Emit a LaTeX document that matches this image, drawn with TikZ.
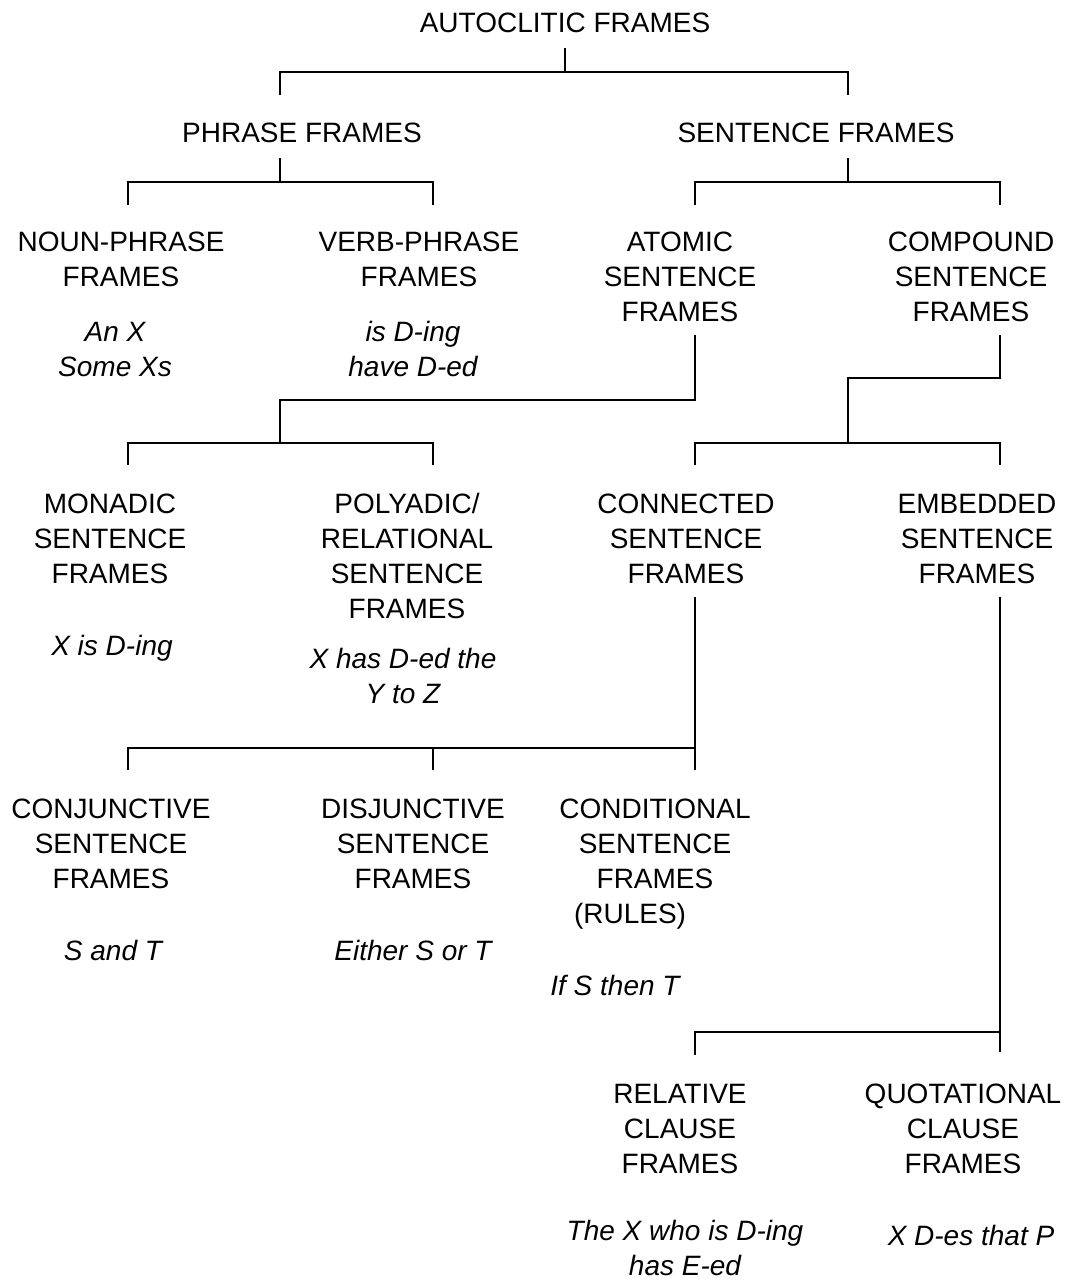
\documentclass[tikz,border=0pt]{standalone}
\usepackage{fontspec}
\setmainfont{Liberation Sans}
\usetikzlibrary{calc}

\tikzset{
  lbl/.style={align=center,anchor=base,inner sep=0pt,font=\fontsize{28}{35}\selectfont},
  ex/.style={lbl,font=\fontsize{28}{35}\selectfont\itshape},
  branch/.style={line width=1.5pt}
}

\begin{document}
\begin{tikzpicture}[x=1pt,y=-1pt]
  \useasboundingbox (0,0) rectangle (1071,1282);

  % labels (base = baseline of the last line)
  \node[lbl] (auto) at (565,32) {AUTOCLITIC FRAMES};
  \node[lbl] (phrase) at (302,142) {PHRASE FRAMES};
  \node[lbl] (sent) at (816,142) {SENTENCE FRAMES};
  \node[lbl] (noun) at (121,286) {NOUN-PHRASE\\FRAMES};
  \node[lbl] (verb) at (419,286) {VERB-PHRASE\\FRAMES};
  \node[lbl] (atomic) at (680,321) {ATOMIC\\SENTENCE\\FRAMES};
  \node[lbl] (comp) at (971,321) {COMPOUND\\SENTENCE\\FRAMES};
  \node[ex] (nounex) at (115,376) {An X\\Some Xs};
  \node[ex] (verbex) at (413,376) {is D-ing\\have D-ed};
  \node[lbl] (mono) at (110,583) {MONADIC\\SENTENCE\\FRAMES};
  \node[lbl] (poly) at (407,618) {POLYADIC/\\RELATIONAL\\SENTENCE\\FRAMES};
  \node[lbl] (conn) at (686,583) {CONNECTED\\SENTENCE\\FRAMES};
  \node[lbl] (emb) at (977,583) {EMBEDDED\\SENTENCE\\FRAMES};
  \node[ex] (monoex) at (112,655) {X is D-ing};
  \node[ex] (polyex) at (403,703) {X has D-ed the\\Y to Z};
  \node[lbl] (conj) at (111,888) {CONJUNCTIVE\\SENTENCE\\FRAMES};
  \node[lbl] (disj) at (413,888) {DISJUNCTIVE\\SENTENCE\\FRAMES};
  \node[lbl] (cond) at (655,923) {CONDITIONAL\\SENTENCE\\FRAMES\\(RULES)\hspace*{50pt}};
  \node[ex] (conjex) at (113,960) {S and T};
  \node[ex] (disjex) at (413,960) {Either S or T};
  \node[ex] (condex) at (615,995) {If S then T};
  \node[lbl] (rel) at (680,1173) {RELATIVE\\CLAUSE\\FRAMES};
  \node[lbl] (quot) at (963,1173) {QUOTATIONAL\\CLAUSE\\FRAMES};
  \node[ex] (relex) at (685,1275) {The X who is D-ing\\has E-ed};
  \node[ex] (quotex) at (971,1245) {X D-es that P};

  % stems and drops
  \coordinate (auto-out) at (565,48);
  \coordinate (phrase-in) at (280,95);
  \coordinate (sent-in) at (848,95);
  \coordinate (phrase-out) at (280,158);
  \coordinate (sent-out) at (848,158);
  \coordinate (noun-in) at (128,205);
  \coordinate (verb-in) at (433,205);
  \coordinate (atomic-in) at (695,205);
  \coordinate (comp-in) at (1000,205);
  \coordinate (atomic-out) at (695,335);
  \coordinate (comp-out) at (1000,335);
  \coordinate (mono-in) at (128,465);
  \coordinate (poly-in) at (433,465);
  \coordinate (conn-in) at (695,465);
  \coordinate (emb-in) at (1000,465);
  \coordinate (conn-out) at (695,597);
  \coordinate (emb-out) at (1000,597);
  \coordinate (conj-in) at (128,770);
  \coordinate (disj-in) at (433,770);
  \coordinate (cond-in) at (695,770);
  \coordinate (rel-in) at (695,1055);
  \coordinate (quot-in) at (1000,1052);

  % connectors
  \draw[branch] (auto-out) -- ++(0,24) coordinate (j1);
  \draw[branch] (phrase-in) |- (j1) -| (sent-in);
  \draw[branch] (phrase-out) -- ++(0,24) coordinate (j2);
  \draw[branch] (noun-in) |- (j2) -| (verb-in);
  \draw[branch] (sent-out) -- ++(0,24) coordinate (j3);
  \draw[branch] (atomic-in) |- (j3) -| (comp-in);
  \draw[branch] (atomic-out) -- ++(0,65) -| (280,443) coordinate (j4);
  \draw[branch] (mono-in) |- (j4) -| (poly-in);
  \draw[branch] (comp-out) -- ++(0,43) -| (848,443) coordinate (j5);
  \draw[branch] (conn-in) |- (j5) -| (emb-in);
  \draw[branch] (conn-out) -- (cond-in);
  \coordinate (j6) at (695,748);
  \draw[branch] (conj-in) |- (j6);
  \draw[branch] (disj-in) -- (disj-in |- j6);
  \draw[branch] (emb-out) -- (quot-in);
  \coordinate (j7) at (1000,1032);
  \draw[branch] (rel-in) |- (j7);
\end{tikzpicture}
\end{document}
